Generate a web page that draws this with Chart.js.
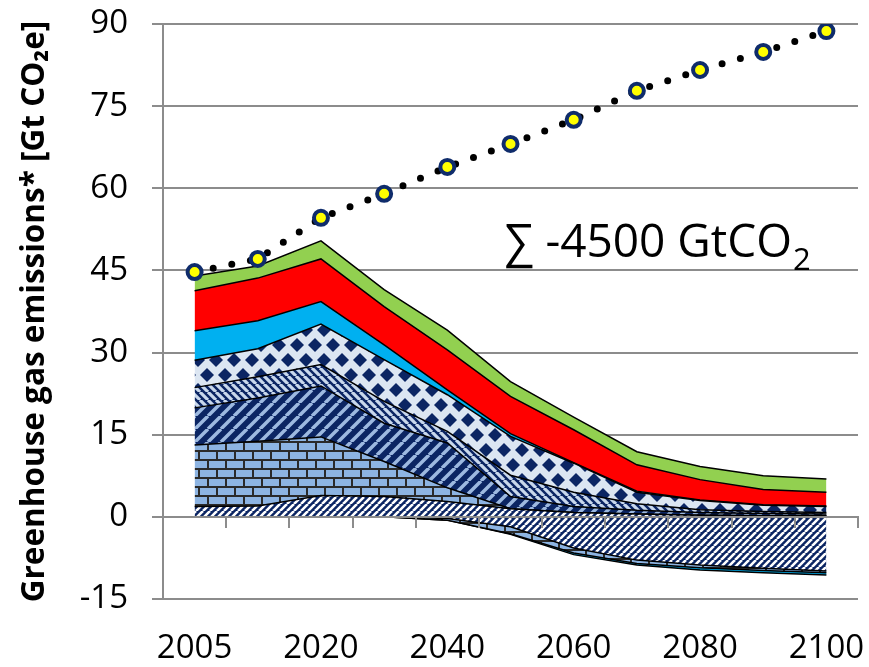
<!DOCTYPE html>
<html><head><meta charset="utf-8">
<script src="https://cdn.jsdelivr.net/npm/chart.js@4.4.1/dist/chart.umd.min.js"></script>
<style>html,body{margin:0;padding:0;background:#fff}</style>
</head><body>
<canvas id="c" width="869" height="667"></canvas>
<script>
// ---- data (Gt CO2e) ----
const years = ['2005','2010','2020','2030','2040','2050','2060','2070','2080','2090','2100'];
const emissionsBaseline = [44.7, 47.1, 54.6, 59.0, 63.9, 68.1, 72.5, 77.8, 81.6, 84.9, 88.7];
// positive parts (stacked upward, bottom to top)
const stripesPos = [1.9, 2.0, 3.9, 3.7, 2.8, 1.5, 0.8, 0.5, 0.3, 0.2, 0.2];
const bricksPos  = [11.2, 11.8, 10.7, 6.4, 2.5, 0.0, 0.0, 0.0, 0.0, 0.0, 0.0];
const wideDiag   = [6.8, 7.9, 9.3, 7.0, 8.2, 2.2, 1.1, 0.7, 0.5, 0.4, 0.3];
const narrowDiag = [3.7, 3.9, 3.9, 4.0, 2.1, 3.9, 2.6, 1.2, 0.5, 0.4, 0.3];
const diamonds   = [5.0, 5.1, 7.4, 7.6, 6.7, 7.1, 5.3, 2.1, 1.7, 1.1, 1.1];
const cyanPos    = [5.4, 5.1, 4.1, 2.7, 0.9, 0.5, 0.1, 0.2, 0.1, 0.1, 0.1];
const redPos     = [7.3, 7.8, 7.8, 7.0, 7.3, 6.8, 6.0, 4.8, 3.7, 2.8, 2.5];
const greenPos   = [2.7, 2.2, 3.3, 3.1, 3.6, 2.7, 2.3, 2.4, 2.4, 2.5, 2.4];
// negative parts (stacked downward from zero)
const stripesNeg = [0, 0, 0, 0, -0.3, -1.8, -5.7, -7.9, -8.8, -9.4, -9.9];
const bricksNeg  = [0, 0, 0, 0, -0.3, -1.3, -0.9, -0.6, -0.5, -0.4, -0.3];
const cyanNeg    = [0, 0, 0, 0, 0, -0.1, -0.3, -0.3, -0.4, -0.4, -0.4];
const yTicks = {min: -15, max: 90, step: 15};
const yTitle = 'Greenhouse gas emissions* [Gt CO₂e]';
const sumText = '∑ -4500 GtCO';
const sumSub = '2';

// ---- patterns ----
const NAVY = '#0B2563';
function tile(w, h, draw) {
  const c = document.createElement('canvas'); c.width = w; c.height = h;
  const g = c.getContext('2d'); draw(g, w, h);
  return document.getElementById('c').getContext('2d').createPattern(c, 'repeat');
}
function diag(s, bg, fg, lw, dir) {
  return tile(s, s, (g) => {
    g.fillStyle = bg; g.fillRect(0, 0, s, s);
    g.strokeStyle = fg; g.lineWidth = lw; g.beginPath();
    for (let k = -1; k <= 1; k++) {
      if (dir === '/') { g.moveTo(k * s, s); g.lineTo(k * s + s, 0); }
      else { g.moveTo(k * s, 0); g.lineTo(k * s + s, s); }
    }
    g.stroke();
  });
}
const pFine = diag(7, NAVY, '#FFFFFF', 2.6, '/');
const pWide = diag(13, NAVY, '#9DB9E0', 3.5, '/');
const pNarrow = diag(8, NAVY, '#C9D8EC', 3.2, '\\');
const pDiamond = tile(18, 30, (g, w, h) => {
  g.fillStyle = '#DCE6F2'; g.fillRect(0, 0, w, h);
  g.fillStyle = NAVY;
  const r = 7;
  [[0,0],[w,0],[0,h],[w,h],[w/2,h/2]].forEach(([cx, cy]) => {
    g.beginPath(); g.moveTo(cx, cy - r); g.lineTo(cx + r, cy); g.lineTo(cx, cy + r); g.lineTo(cx - r, cy); g.closePath(); g.fill();
  });
});
const pBricks = tile(18, 18, (g, w, h) => {
  g.fillStyle = '#8DB4E2'; g.fillRect(0, 0, w, h);
  g.fillStyle = '#2A2A2A';
  g.fillRect(0, 0, w, 2); g.fillRect(0, 9, w, 2);
  g.fillRect(0, 0, 2, 9); g.fillRect(9, 9, 2, 9);
});

// ---- datasets built from the arrays ----
const datasets = [];
const band = (acc, fill, bg) => ({
  data: acc.slice(), fill: fill, backgroundColor: bg, borderColor: '#000', borderWidth: 1.5,
  pointRadius: 0, pointHoverRadius: 0, tension: 0
});
const posSeries = [[stripesPos, pFine], [bricksPos, pBricks], [wideDiag, pWide], [narrowDiag, pNarrow],
                   [diamonds, pDiamond], [cyanPos, '#00B0F0'], [redPos, '#FF0000'], [greenPos, '#92D050']];
let acc = years.map(() => 0);
posSeries.forEach(([s, bg], i) => {
  acc = acc.map((a, j) => a + s[j]);
  datasets.push(band(acc, i === 0 ? 'origin' : '-1', bg));
});
const negSeries = [[stripesNeg, pFine], [bricksNeg, pBricks], [cyanNeg, '#00B0F0']];
acc = years.map(() => 0);
negSeries.forEach(([s, bg], i) => {
  acc = acc.map((a, j) => a + s[j]);
  datasets.push(band(acc, i === 0 ? 'origin' : '-1', bg));
});
datasets.push({
  data: emissionsBaseline, fill: false, order: -1,
  borderColor: '#000', borderWidth: 7, borderDash: [0, 19], borderCapStyle: 'round',
  pointRadius: 7, pointBorderWidth: 4, pointBackgroundColor: '#FFFF00', pointBorderColor: '#0F2C6B',
  tension: 0
});

const GRID = '#8C8C8C';
const annot = {
  id: 'annot',
  afterDatasetsDraw(chart) {
    const {ctx, scales: {x, y}} = chart;
    ctx.save();
    ctx.fillStyle = '#000';
    ctx.textBaseline = 'alphabetic';
    ctx.font = '46px "Open Sans"';
    const px = x.getPixelForValue(5) - 6;
    const py = y.getPixelForValue(47.5);
    ctx.fillText(sumText, px, py);
    const w = ctx.measureText(sumText).width;
    ctx.font = '31px "Open Sans"';
    ctx.fillText(sumSub, px + w + 1, py + 13);
    ctx.restore();
  }
};

new Chart(document.getElementById('c'), {
  type: 'line',
  data: {labels: years, datasets},
  plugins: [annot],
  options: {
    responsive: false, animation: false,
    layout: {padding: {top: 24, right: 11, left: 0, bottom: 0}},
    plugins: {legend: {display: false}, tooltip: {enabled: false}},
    scales: {
      x: {
        type: 'category', offset: true,
        grid: {display: false, drawTicks: false}, border: {display: false},
        ticks: {
          autoSkip: false, maxRotation: 0, padding: 30, color: '#000',
          font: {family: 'Open Sans', size: 33},
          callback: function (v, i) { return i % 2 === 0 ? this.getLabelForValue(v) : ''; }
        },
        afterFit: (s) => { s.height = 68; s.paddingLeft = 0; s.paddingRight = 0; }
      },
      x0: {
        type: 'category', offset: true, position: {y: 0},
        grid: {offset: true, drawOnChartArea: false, drawTicks: true, tickLength: 10, color: GRID, lineWidth: 2, z: 1},
        border: {display: true, color: GRID, width: 2, z: 1},
        ticks: {display: false},
        afterFit: (s) => { s.paddingLeft = 0; s.paddingRight = 0; }
      },
      y: {
        min: yTicks.min, max: yTicks.max,
        ticks: {stepSize: yTicks.step, padding: 24, color: '#000', font: {family: 'Open Sans', size: 33}},
        grid: {color: GRID, lineWidth: 2, tickLength: 11},
        border: {display: true, color: GRID, width: 2},
        title: {display: true, text: yTitle, color: '#000', padding: {top: 16, bottom: 0},
                font: {family: 'Open Sans', size: 31.5, weight: 'bold'}},
        afterFit: (s) => { s.width = 163; s.paddingTop = 0; s.paddingBottom = 0; }
      }
    }
  }
});
</script>
</body></html>
